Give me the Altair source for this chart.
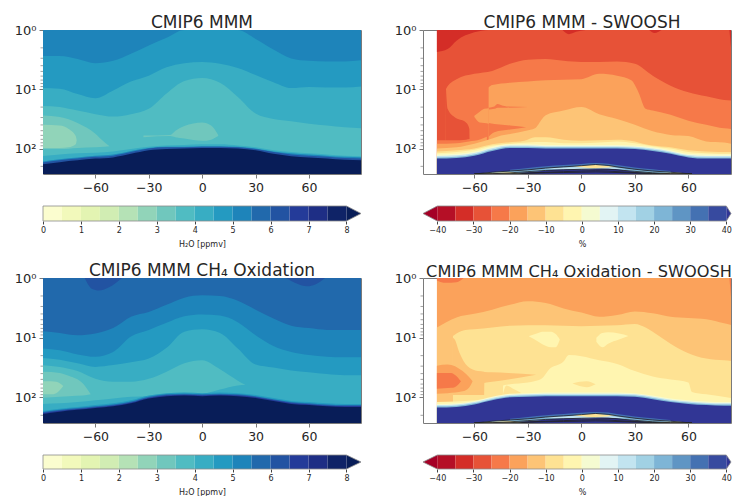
import altair as alt
import pandas as pd

FONT = "DejaVu Sans"
TOP = 0.0
BOTTOM = 2.43

# ---- colour levels
H2O_LEVELS = [0, .5, 1, 1.5, 2, 2.5, 3, 3.5, 4, 4.5, 5, 5.5, 6, 6.5, 7, 7.5, 8]
H2O_COLORS = ["#fbfdcf", "#f2f9bb", "#e3f4b2", "#d1edb3", "#b5e2b6", "#91d4b9", "#70c7bd", "#50bcc2",
              "#38adc3", "#249ac1", "#1e84ba", "#2169ac", "#2253a2", "#243b99", "#1e2e85", "#0f2367"]
H2O_OVER = "#081d58"
PCT_LEVELS = [-40, -35, -30, -25, -20, -15, -10, -5, 0, 5, 10, 15, 20, 25, 30, 35, 40]
PCT_COLORS = ["#b50f26", "#d42d27", "#e75237", "#f67949", "#fba25b", "#fdc476", "#fee293", "#fff5b0",
              "#f5fbd1", "#e2f4f4", "#c2e4f0", "#a1d1e4", "#7eb5d6", "#5f95c4", "#4471b2", "#374a9f"]
PCT_UNDER = "#a50026"
PCT_OVER = "#313695"
H2O_TICKS = [0, 1, 2, 3, 4, 5, 6, 7, 8]
PCT_TICKS = [-40, -30, -20, -10, 0, 10, 20, 30, 40]
LAT_TICKS = [-60, -30, 0, 30, 60]
MINOR_P = [2, 3, 4, 5, 6, 7, 8, 9, 20, 30, 40, 50, 60, 70, 80, 90, 200]

LAT10 = [-90, -80, -70, -60, -50, -40, -30, -20, -10, 0, 10, 20, 30, 40, 50, 60, 70, 80, 90]
LATR = [-81, -70, -60, -50, -40, -30, -20, -10, 0, 10, 20, 30, 40, 50, 60, 70, 80, 84]

# ---- panel 1: log10(p) of each band edge
A_B1 = [.44, .44, .49, .56, .52, .40, .26, .13, 0, 0, 0, 0, .15, .33, .48, .52, .53, .53, .51]
A_B2 = [.98, .99, 1.08, 1.15, 1.02, .87, .77, .63, .56, .54, .57, .64, .76, .88, .98, .96, .97, .97, .95]
A_B3 = [1.28, 1.30, 1.36, 1.42, 1.46, 1.42, 1.33, 1.07, .86, .81, .89, 1.13, 1.41, 1.50, 1.54, 1.58, 1.61, 1.64, 1.66]
A_ISL1_LAT = [-90, -80, -70, -60, -55, -52]
A_ISL1_TOP = [1.44, 1.47, 1.57, 1.75, 1.89, 1.96]
A_ISL1_BOT = [2.01, 2.01, 1.99, 1.98, 1.97, 1.96]
A_ISL2_LAT = [-90, -80, -75, -71, -70.5]
A_ISL2_TOP = [1.60, 1.61, 1.67, 1.79, 1.86]
A_ISL2_BOT = [1.99, 1.99, 1.98, 1.93, 1.86]
A_ISL3_LAT = [-33, -18, -15, -10, 0, 5, 9]
A_ISL3_TOP = [1.78, 1.77, 1.70, 1.62, 1.56, 1.61, 1.77]
A_ISL3_BOT = [1.81, 1.79, 1.81, 1.83, 1.87, 1.85, 1.79]
A_E1 = [2.13, 2.10, 2.08, 2.07, 2.05, 2.01, 1.97, 1.95, 1.94, 1.93, 1.93, 1.95, 1.98, 2.03, 2.06, 2.08, 2.10, 2.12, 2.13]
A_E2 = [2.22, 2.18, 2.15, 2.12, 2.10, 2.04, 1.99, 1.97, 1.97, 1.96, 1.96, 1.97, 2.00, 2.05, 2.08, 2.10, 2.12, 2.14, 2.15]
A_E3 = [2.24, 2.20, 2.17, 2.14, 2.12, 2.06, 2.00, 1.98, 1.98, 1.97, 1.97, 1.98, 2.01, 2.06, 2.10, 2.12, 2.14, 2.16, 2.17]
A_D = [2.27, 2.23, 2.20, 2.17, 2.15, 2.09, 2.03, 2.01, 2.00, 1.99, 1.99, 2.00, 2.03, 2.09, 2.13, 2.15, 2.17, 2.19, 2.20]

# ---- panel 3
C_T1_LAT = [-66, -62, -58, -52, -45]
C_T1_BOT = [0, .18, .21, .15, 0]
C_T2_LAT = [47, 52, 59, 63.5, 69]
C_T2_BOT = [0, .08, .14, .11, 0]
C_B1 = [.89, .92, .96, .93, .84, .65, .57, .45, .33, .29, .30, .38, .53, .68, .80, .84, .87, .87, .87]
C_B2 = [1.18, 1.21, 1.28, 1.32, 1.24, .98, .87, .75, .64, .61, .63, .74, .96, 1.14, 1.24, 1.29, 1.32, 1.33, 1.33]
C_B3 = [1.34, 1.37, 1.43, 1.49, 1.46, 1.41, 1.35, 1.17, .90, .86, .92, 1.18, 1.45, 1.50, 1.55, 1.58, 1.61, 1.63, 1.63]
C_I7_LAT = [-90, -80, -70, -60, -50, -40, -30, -20, -10, 0, 10, 20, 24.3]
C_I7_TOP = [1.46, 1.49, 1.56, 1.69, 1.74, 1.74, 1.69, 1.57, 1.43, 1.38, 1.53, 1.72, 1.79]
C_I7_BOT = [2.11, 2.10, 2.08, 2.05, 2.02, 1.99, 1.98, 1.96, 1.93, 1.94, 1.87, 1.80, 1.79]
C_I6_LAT = [-90, -80, -75, -67, -62.6]
C_I6_TOP = [1.57, 1.59, 1.64, 1.77, 1.95]
C_I6_BOT = [2.01, 1.99, 1.98, 1.97, 1.95]
C_I5_LAT = [-90, -85, -82, -78]
C_I5_TOP = [1.73, 1.73, 1.74, 1.81]
C_I5_BOT = [1.95, 1.95, 1.93, 1.81]
C_E1 = [2.23, 2.19, 2.16, 2.13, 2.10, 2.05, 1.97, 1.93, 1.92, 1.93, 1.92, 1.93, 1.96, 2.01, 2.06, 2.08, 2.10, 2.11, 2.11]
C_E2 = [2.25, 2.21, 2.18, 2.15, 2.12, 2.07, 1.99, 1.95, 1.94, 1.95, 1.94, 1.95, 1.98, 2.03, 2.08, 2.10, 2.12, 2.13, 2.13]
C_E3 = [2.265, 2.225, 2.195, 2.165, 2.135, 2.085, 2.005, 1.965, 1.955, 1.965, 1.955, 1.965, 1.995, 2.045, 2.095, 2.115, 2.135, 2.145, 2.145]
C_D = [2.28, 2.24, 2.21, 2.18, 2.15, 2.10, 2.02, 1.98, 1.97, 1.98, 1.97, 1.98, 2.01, 2.06, 2.11, 2.13, 2.15, 2.16, 2.16]

# ---- panel 2
B_R1_LAT = [-81, -75, -70, -60, -52]
B_R1_BOT = [.37, .32, .18, .04, 0]
B_R2_LAT = [83, 84]
B_R2_BOT = [0, .32]
B_R3_LAT = [-10.6, -7, -3, 2.4]
B_R3_BOT = [0, .07, .03, 0]
B_R4_LAT = [38, 41, 45]
B_R4_BOT = [0, .05, 0]
B_I3_LAT = [-81, -75.91, -75.9, -70, -60, -50, -40, -30, -20, -10, 0, 10, 20, 30, 40, 50, 60, 70, 80, 84]
B_I3_TOP = [1.86, 1.86, .995, .83, .74, .69, .57, .50, .49, .52, .54, .54, .53, .57, .77, .94, 1.05, 1.12, 1.18, 1.19]
B_PK_LAT = [-75.9, -75, -71.2, -64.7, -62.8, -62.7]
B_PK_TOP = [1.0, 1.33, 1.47, 1.56, 1.67, 1.84]
B_PK_BOT = [1.86, 1.86, 1.86, 1.85, 1.84, 1.84]
B_I4_LAT = [-52, -50, -40, -30, -20, -10, 0, 10, 20, 28, 32, 36, 40, 50, 60, 70, 80, 84]
B_I4_TOP = [.97, .93, .89, .87, .85, .84, .83, .74, .77, .85, 1.05, 1.33, 1.36, 1.43, 1.53, 1.60, 1.66, 1.67]
B_SL_LAT = [-52, -48.8, -47, -44, -42, -30]
B_SL_TOP = [1.31, 1.29, 1.25, 1.28, 1.29, 1.30]
B_SL_BOT = [1.34, 1.33, 1.31, 1.31, 1.31, 1.30]
B_WG_LAT = [-52, -48.8, -40, -31]
B_WG_TOP = [1.57, 1.585, 1.61, 1.64]
B_WG_BOT = [1.80, 1.725, 1.68, 1.64]
B_BP_LAT = [-60, -57, -54.4, -51.9]
B_BP_TOP = [1.445, 1.38, 1.33, 1.32]
B_BP_BOT = [1.47, 1.56, 1.57, 1.58]
B_LL_LAT = [-81, -70, -63, -60, -53]
B_LL_TOP = [1.92, 1.91, 1.88, 1.87, 1.80]
B_I5_LAT = [-81, -70, -60, -50, -45, -40, -31, -26, -22, -20, -10, 0, 10, 20, 30, 40, 50, 60, 70, 80, 84]
B_I5_TOP = [2.00, 1.98, 1.92, 1.83, 1.78, 1.755, 1.70, 1.66, 1.50, 1.44, 1.36, 1.30, 1.42, 1.50, 1.60, 1.71, 1.77, 1.79, 1.88, 1.90, 1.92]
B_I6_LAT = [-81, -70, -60, -50, -42, -32, -26, -20, -10, 0, 10, 20, 30, 36, 40, 50, 60, 70, 84]
B_I6_TOP = [2.05, 2.03, 2.00, 1.93, 1.90, 1.87, 1.81, 1.81, 1.85, 1.87, 1.86, 1.85, 1.88, 1.93, 1.95, 1.98, 2.03, 2.05, 2.06]
B_I7_LAT = [-81, -70, -60, -50, -40, -30, -25, -20, -10, 0, 10, 20, 30, 40, 50, 60, 70, 84]
B_I7_TOP = [2.08, 2.06, 2.02, 1.95, 1.92, 1.90, 1.89, 1.89, 1.91, 1.91, 1.90, 1.88, 1.91, 1.96, 2.00, 2.06, 2.08, 2.09]
B_G1 = [2.10, 2.09, 2.05, 1.97, 1.93, 1.93, 1.94, 1.94, 1.94, 1.94, 1.94, 1.95, 1.98, 2.03, 2.09, 2.10, 2.10, 2.10]
B_G2 = [2.125, 2.115, 2.075, 1.995, 1.95, 1.95, 1.96, 1.96, 1.96, 1.96, 1.96, 1.97, 2.00, 2.05, 2.11, 2.125, 2.125, 2.125]
B_G3 = [2.15, 2.14, 2.10, 2.02, 1.97, 1.97, 1.98, 1.98, 1.98, 1.98, 1.98, 1.99, 2.02, 2.07, 2.13, 2.15, 2.15, 2.15]
B_D = [2.17, 2.16, 2.12, 2.04, 1.99, 1.99, 2.00, 2.00, 2.00, 2.00, 2.00, 2.01, 2.04, 2.09, 2.15, 2.17, 2.17, 2.17]

# ---- panel 4
D_R1_LAT = [-81, -76, -70, -66]
D_R1_BOT = [.04, .08, .07, 0]
D_R2_LAT = [83, 84]
D_R2_BOT = [0, .35]
D_I5 = [.83, .66, .60, .53, .45, .39, .42, .51, .58, .65, .62, .56, .59, .65, .67, .69, .76, .79]
D_I6_LAT = [-72, -70, -65, -60, -50, -40, -30, -20, -10, 0, 10, 20, 30, 36, 40, 50, 60, 70, 80, 84]
D_I6_TOP = [.97, .93, .87, .86, .83, .80, .79, .79, .80, .81, .80, .79, .77, .83, .90, 1.10, 1.26, 1.35, 1.38, 1.39]
D_LB_LAT = [-72, -71, -68.4, -63.8, -58, -54.5, -54.4, -50, -41, -25.4]
D_LB_TOP = [1.00, 1.03, 1.25, 1.48, 1.56, 1.57, 1.575, 1.58, 1.59, 1.62]
D_LB_BOT = [1.96, 1.96, 1.96, 1.96, 1.96, 1.96, 1.76, 1.74, 1.70, 1.62]
D_IA_LAT = [-81, -75, -66.6, -63, -61]
D_IA_TOP = [1.47, 1.45, 1.56, 1.66, 1.73]
D_IA_BOT = [1.94, 1.93, 1.90, 1.84, 1.73]
D_IB_LAT = [-81, -73, -71, -67.5]
D_IB_TOP = [1.59, 1.59, 1.62, 1.73]
D_IB_BOT = [1.855, 1.84, 1.83, 1.73]
D_B1_LAT = [-29.3, -25, -21.9, -17, -14.4, -12.1]
D_B1_TOP = [.97, .93, .90, .90, .94, 1.03]
D_B1_BOT = [.98, 1.05, 1.11, 1.16, 1.16, 1.03]
D_B2_LAT = [8.4, 11.8, 15, 21.1, 26.4]
D_B2_TOP = [1.00, .92, .91, .93, .97]
D_B2_BOT = [1.07, 1.16, 1.10, 1.03, .97]
D_I7_LAT = [-81, -60, -50, -44, -43.9, -40, -30, -26.4, -22, -18, -10, -7, 0, 10, 20, 30, 40, 50, 60, 62, 70, 84]
D_I7_TOP = [2.08, 2.05, 2.02, 2.00, 1.80, 1.78, 1.75, 1.73, 1.68, 1.53, 1.40, 1.29, 1.31, 1.38, 1.44, 1.56, 1.65, 1.70, 1.75, 1.91, 1.95, 2.01]
D_WG_LAT = [-43.9, -42, -38, -33.5]
D_WG_TOP = [1.94, 1.80, 1.86, 1.93]
D_WG_BOT = [1.97, 1.97, 1.95, 1.93]
D_SP_LAT = [-5, -1, 3, 8]
D_SP_TOP = [1.77, 1.74, 1.73, 1.78]
D_SP_BOT = [1.77, 1.81, 1.83, 1.78]
D_G1 = [2.11, 2.10, 2.06, 1.99, 1.94, 1.93, 1.92, 1.92, 1.92, 1.92, 1.92, 1.93, 1.97, 2.02, 2.05, 2.07, 2.08, 2.08]
D_G2 = [2.13, 2.12, 2.08, 2.01, 1.96, 1.95, 1.94, 1.94, 1.94, 1.94, 1.94, 1.95, 1.99, 2.04, 2.07, 2.09, 2.10, 2.10]
D_G3 = [2.15, 2.14, 2.10, 2.03, 1.98, 1.97, 1.96, 1.96, 1.96, 1.96, 1.96, 1.97, 2.01, 2.06, 2.09, 2.11, 2.12, 2.12]
D_D = [2.17, 2.16, 2.12, 2.05, 2.00, 1.99, 1.98, 1.98, 1.98, 1.98, 1.98, 1.99, 2.03, 2.08, 2.11, 2.13, 2.14, 2.14]

# ---- noisy zone below the hygropause in both difference panels
M_LAT = [-60, -50, -40, -30, -20, -10, 0, 8, 15, 20, 30, 40, 50, 62]
M_ARCH = [2.43, 2.40, 2.38, 2.36, 2.33, 2.31, 2.29, 2.27, 2.285, 2.31, 2.35, 2.38, 2.40, 2.43]
M_LOW = [2.43, 2.43, 2.42, 2.40, 2.37, 2.35, 2.33, 2.32, 2.33, 2.35, 2.39, 2.42, 2.43, 2.43]
M_L2 = [2.43, 2.425, 2.41, 2.39, 2.37, 2.36, 2.35, 2.345, 2.35, 2.36, 2.385, 2.41, 2.425, 2.43]
M_L3 = [2.43, 2.43, 2.425, 2.41, 2.40, 2.39, 2.38, 2.375, 2.38, 2.39, 2.405, 2.42, 2.43, 2.43]
M_L4 = [2.43, 2.43, 2.43, 2.42, 2.41, 2.405, 2.40, 2.395, 2.40, 2.405, 2.415, 2.425, 2.43, 2.43]
M_GL_LAT = [-40, -30, -20, -10, 0, 8, 15, 20, 30, 40, 50]
M_GL_TOP = [2.36, 2.33, 2.30, 2.28, 2.26, 2.245, 2.255, 2.28, 2.32, 2.35, 2.38]
M_GL_BOT = [2.38, 2.36, 2.33, 2.31, 2.29, 2.27, 2.285, 2.31, 2.35, 2.38, 2.40]
M_LT_LAT = [-20, -10, 0, 8, 15, 25]
M_LT_TOP = [2.34, 2.32, 2.31, 2.30, 2.31, 2.35]
M_LT_BOT = [2.34, 2.35, 2.35, 2.345, 2.34, 2.35]
M_Y_LAT = [-5, 3, 8, 14, 20]
M_Y_TOP = [2.30, 2.285, 2.28, 2.295, 2.31]
M_Y_BOT = [2.30, 2.325, 2.33, 2.32, 2.31]
M_F1_LAT = [-57, -48, -40, -33]
M_F1_TOP = [2.43, 2.405, 2.395, 2.43]
M_F2_LAT = [42, 48, 54, 60]
M_F2_TOP = [2.43, 2.41, 2.41, 2.43]


def y_key(i):
    return H2O_COLORS[i]


def r_key(i):
    return PCT_COLORS[i]


def frame(polys):
    rows = []
    for n, (col, lats, tops, bots) in enumerate(polys):
        for j, lat in enumerate(lats):
            t = tops if isinstance(tops, (int, float)) else tops[j]
            b = bots if isinstance(bots, (int, float)) else bots[j]
            rows.append({"poly": n, "c": col, "lat": lat, "p1": 10 ** t, "p2": 10 ** b})
    return pd.DataFrame(rows)


P_A = [
    (y_key(10), LAT10, TOP, BOTTOM), (y_key(9), LAT10, A_B1, BOTTOM), (y_key(8), LAT10, A_B2, BOTTOM),
    (y_key(7), LAT10, A_B3, BOTTOM), (y_key(6), A_ISL1_LAT, A_ISL1_TOP, A_ISL1_BOT),
    (y_key(5), A_ISL2_LAT, A_ISL2_TOP, A_ISL2_BOT), (y_key(6), A_ISL3_LAT, A_ISL3_TOP, A_ISL3_BOT),
    (y_key(8), LAT10, A_E1, BOTTOM), (y_key(10), LAT10, A_E2, BOTTOM), (y_key(12), LAT10, A_E3, BOTTOM),
    (H2O_OVER, LAT10, A_D, BOTTOM),
]
P_C = [
    (y_key(11), LAT10, TOP, BOTTOM), (y_key(12), C_T1_LAT, TOP, C_T1_BOT), (y_key(12), C_T2_LAT, TOP, C_T2_BOT),
    (y_key(10), LAT10, C_B1, BOTTOM), (y_key(9), LAT10, C_B2, BOTTOM), (y_key(8), LAT10, C_B3, BOTTOM),
    (y_key(7), C_I7_LAT, C_I7_TOP, C_I7_BOT), (y_key(6), C_I6_LAT, C_I6_TOP, C_I6_BOT),
    (y_key(5), C_I5_LAT, C_I5_TOP, C_I5_BOT),
    (y_key(9), LAT10, C_E1, BOTTOM), (y_key(11), LAT10, C_E2, BOTTOM), (y_key(13), LAT10, C_E3, BOTTOM),
    (H2O_OVER, LAT10, C_D, BOTTOM),
]
MESS = [
    (r_key(14), M_GL_LAT, M_GL_TOP, M_GL_BOT),
    (r_key(12), M_LAT, M_ARCH, M_LOW), (r_key(10), M_LT_LAT, M_LT_TOP, M_LT_BOT),
    (r_key(6), M_Y_LAT, M_Y_TOP, M_Y_BOT),
    (r_key(7), M_F1_LAT, M_F1_TOP, BOTTOM), (r_key(7), M_F2_LAT, M_F2_TOP, BOTTOM),
]
P_B = [
    (r_key(2), LATR, TOP, BOTTOM), (r_key(1), B_R1_LAT, TOP, B_R1_BOT), (r_key(1), B_R2_LAT, TOP, B_R2_BOT),
    (r_key(1), B_R3_LAT, TOP, B_R3_BOT), (r_key(1), B_R4_LAT, TOP, B_R4_BOT),
    (r_key(3), B_I3_LAT, B_I3_TOP, BOTTOM), (r_key(2), B_PK_LAT, B_PK_TOP, B_PK_BOT),
    (r_key(4), B_I4_LAT, B_I4_TOP, BOTTOM), (r_key(3), B_SL_LAT, B_SL_TOP, B_SL_BOT),
    (r_key(3), B_WG_LAT, B_WG_TOP, B_WG_BOT), (r_key(4), B_BP_LAT, B_BP_TOP, B_BP_BOT),
    (r_key(4), B_LL_LAT, B_LL_TOP, BOTTOM), (r_key(5), B_I5_LAT, B_I5_TOP, BOTTOM),
    (r_key(6), B_I6_LAT, B_I6_TOP, BOTTOM), (r_key(7), B_I7_LAT, B_I7_TOP, BOTTOM),
    (r_key(8), LATR, B_G1, BOTTOM), (r_key(10), LATR, B_G2, BOTTOM), (r_key(12), LATR, B_G3, BOTTOM),
    (PCT_OVER, LATR, B_D, BOTTOM),
] + MESS
P_D = [
    (r_key(4), LATR, TOP, BOTTOM), (r_key(3), D_R1_LAT, TOP, D_R1_BOT), (r_key(3), D_R2_LAT, TOP, D_R2_BOT),
    (r_key(5), LATR, D_I5, BOTTOM), (r_key(6), D_I6_LAT, D_I6_TOP, BOTTOM),
    (r_key(5), D_LB_LAT, D_LB_TOP, D_LB_BOT), (r_key(4), D_IA_LAT, D_IA_TOP, D_IA_BOT),
    (r_key(3), D_IB_LAT, D_IB_TOP, D_IB_BOT), (r_key(7), D_B1_LAT, D_B1_TOP, D_B1_BOT),
    (r_key(7), D_B2_LAT, D_B2_TOP, D_B2_BOT), (r_key(7), D_I7_LAT, D_I7_TOP, BOTTOM),
    (r_key(6), D_WG_LAT, D_WG_TOP, D_WG_BOT), (r_key(6), D_SP_LAT, D_SP_TOP, D_SP_BOT),
    (r_key(8), LATR, D_G1, BOTTOM), (r_key(10), LATR, D_G2, BOTTOM), (r_key(12), LATR, D_G3, BOTTOM),
    (PCT_OVER, LATR, D_D, BOTTOM),
] + MESS

TEXT = "#262626"
EDGE = "#7a7a7a"
Y_SCALE = alt.Scale(type="log", domain=[1, 10 ** BOTTOM], reverse=True, nice=False)


def panel(polys, title, width, height, xdom, lines=False, title_size=17, title_dx=0):
    df = frame(polys)
    xs = alt.Scale(domain=xdom, nice=False, zero=False)
    area = alt.Chart(df).mark_area(interpolate="monotone", clip=True, orient="vertical").encode(
        x=alt.X("lat:Q", scale=xs, axis=alt.Axis(values=LAT_TICKS, title=None, grid=False, domain=False,
                                                 labelFontSize=12.5, labelFont=FONT, labelColor=TEXT,
                                                 tickColor=EDGE, tickSize=4, labelPadding=3, labelFlush=False,
                                                 labelOverlap=False,
                                                 labelExpr="replace(format(datum.value,'d'),'-','\u2212')")),
        y=alt.Y("p1:Q", scale=Y_SCALE, axis=alt.Axis(values=[1, 10, 100], title=None, grid=False, domain=False,
                                                     labelFontSize=13, labelFont=FONT, labelColor=TEXT,
                                                     tickColor=EDGE, tickSize=4, labelPadding=3, labelFlush=False,
                                                     labelOverlap=False,
                                                     labelExpr="datum.value==1?'10\u2070':datum.value==10?'10\u00b9':'10\u00b2'")),
        y2="p2:Q",
        color=alt.Color("c:N", scale=None),
        detail="poly:N",
    )
    minor = alt.Chart(pd.DataFrame({"p": MINOR_P})).mark_rule(color=EDGE, strokeWidth=0.7).encode(
        y=alt.Y("p:Q", scale=Y_SCALE), x=alt.value(-2.5), x2=alt.value(0))
    layers = [area, minor]
    if lines:
        rows = []
        for n, arr in enumerate([M_ARCH, M_L2, M_L3, M_L4]):
            for la, v in zip(M_LAT, arr):
                rows.append({"lat": la, "p": 10 ** v, "n": n})
        layers.insert(1, alt.Chart(pd.DataFrame(rows)).mark_line(color="#222222", strokeWidth=0.8, clip=True).encode(
            x=alt.X("lat:Q", scale=xs), y=alt.Y("p:Q", scale=Y_SCALE), detail="n:N"))
    return alt.layer(*layers).properties(
        width=width, height=height,
        title=alt.TitleParams(title, font=FONT, fontSize=title_size, fontWeight="normal", color=TEXT, offset=-8,
                              dx=title_dx),
        view=alt.ViewConfig(stroke=EDGE, strokeWidth=1),
    )


def colorbar(levels, colors, ticks, xdom, title, width, height, under=None, over=None, title_x=None):
    rows = [{"x": levels[i], "x2": levels[i + 1], "c": colors[i]} for i in range(len(colors))]
    df = pd.DataFrame(rows)
    xs = alt.Scale(domain=xdom, nice=False, zero=False)
    ys = alt.Scale(domain=[0, 1], nice=False)
    axis = alt.Axis(values=ticks, title=title, titleFont=FONT, titleFontSize=8,
                    titleFontWeight="normal", titleColor=TEXT, titlePadding=6,
                    grid=False, domain=False, labelFontSize=8, labelFont=FONT,
                    labelColor=TEXT, tickColor="#444444", tickSize=3, labelPadding=2,
                    labelFlush=False, labelOverlap=False, labelSeparation=0,
                    titleX=title_x if title_x is not None else width / 2,
                    labelExpr="replace(format(datum.value,'d'),'-','\u2212')")
    rect = alt.Chart(df).mark_rect().encode(
        x=alt.X("x:Q", scale=xs, axis=axis),
        x2="x2:Q",
        y=alt.value(0), y2=alt.value(height),
        color=alt.Color("c:N", scale=None),
    )
    layers = [rect]
    xmin, xmax = levels[0], levels[-1]
    arrows = []
    if under:
        arrows.append((under, [xdom[0], xmin], [.5, 0], [.5, 1]))
    if over:
        arrows.append((over, [xmax, xdom[1]], [0, .5], [1, .5]))
    for col, xa, lo, hi in arrows:
        a = pd.DataFrame({"x": xa, "y": lo, "y2": hi})
        layers.append(alt.Chart(a).mark_area(color=col, orient="vertical").encode(
            x=alt.X("x:Q", scale=xs, axis=axis), y=alt.Y("y:Q", scale=ys, axis=None), y2="y2:Q"))
    path = [(xmin, 0), (xmax, 0)]
    if over:
        path.append((xdom[1], .5))
    path += [(xmax, 1), (xmin, 1)]
    if under:
        path.append((xdom[0], .5))
    path.append((xmin, 0))
    o = pd.DataFrame({"x": [p[0] for p in path], "y": [p[1] for p in path], "o": list(range(len(path)))})
    layers.append(alt.Chart(o).mark_line(color="#8a8a8a", strokeWidth=0.8).encode(
        x=alt.X("x:Q", scale=xs, axis=axis), y=alt.Y("y:Q", scale=ys, axis=None), order="o:O"))
    return alt.layer(*layers).properties(width=width, height=height, view=alt.ViewConfig(stroke=None))


W1, W2 = 318, 308
XL = [-89.4, 89.2]
XR = [-88.8, 83.9]
H2O_DOM = [0, 8.383]
PCT_DOM = [-43.96, 41.3]

a = panel(P_A, "CMIP6 MMM", W1, 144, XL)
b = panel(P_B, "CMIP6 MMM - SWOOSH", W2, 144, XR, lines=True, title_dx=5)
c = panel(P_C, "CMIP6 MMM CH\u2084 Oxidation", W1, 145, XL)
d = panel(P_D, "CMIP6 MMM CH\u2084 Oxidation - SWOOSH", W2, 145, XR, lines=True, title_size=16.2, title_dx=2)
ca = colorbar(H2O_LEVELS, H2O_COLORS, H2O_TICKS, H2O_DOM, "H\u2082O [ppmv]", W1, 15, over=H2O_OVER)
cc = colorbar(H2O_LEVELS, H2O_COLORS, H2O_TICKS, H2O_DOM, "H\u2082O [ppmv]", W1, 14, over=H2O_OVER)
cb = colorbar(PCT_LEVELS, PCT_COLORS, PCT_TICKS, PCT_DOM, "%", W2, 15, under=PCT_UNDER, over=PCT_OVER, title_x=W2 / 2 + 5)
cd = colorbar(PCT_LEVELS, PCT_COLORS, PCT_TICKS, PCT_DOM, "%", W2, 14, under=PCT_UNDER, over=PCT_OVER, title_x=W2 / 2 + 5)

BAR_GAP = 10
row1 = alt.hconcat(alt.vconcat(a, ca, spacing=BAR_GAP), alt.vconcat(b, cb, spacing=BAR_GAP), spacing=30)
row2 = alt.hconcat(alt.vconcat(c, cc, spacing=BAR_GAP), alt.vconcat(d, cd, spacing=BAR_GAP), spacing=30)
chart = alt.vconcat(row1, row2, spacing=13).properties(
    padding={"left": 5, "top": 5, "right": 0, "bottom": 0}, background="white"
)

chart.save("out.html", embed_options={"renderer": "svg", "actions": False})
